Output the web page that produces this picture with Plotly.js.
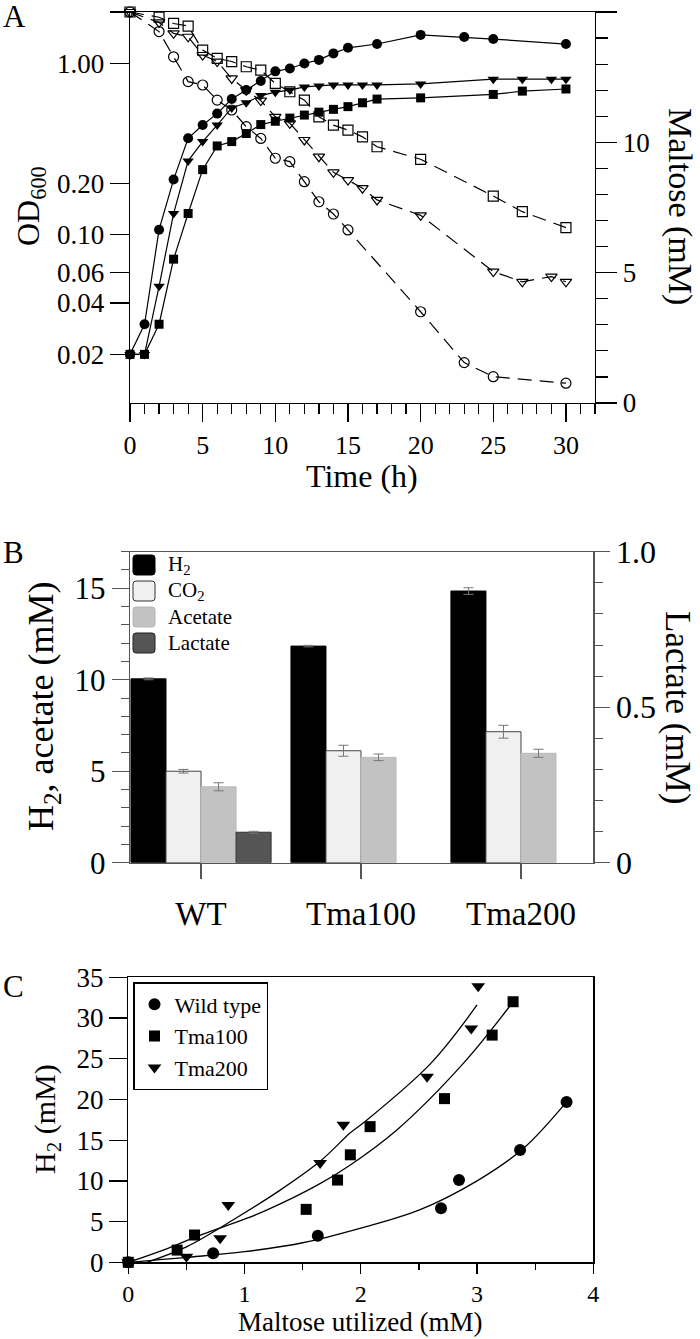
<!DOCTYPE html>
<html>
<head>
<meta charset="utf-8">
<script src="https://cdn.plot.ly/plotly-3.0.1.min.js"></script>
<style>
html,body{margin:0;padding:0;background:#fff;}
#chart{width:700px;height:1339px;}
</style>
</head>
<body>
<div id="chart"></div>
<script>
// ---------------- Panel A data ----------------
const tWT_OD   = [0,1,2,3,4,5,6,7,8,9,10,11,12,13,14,15,17,20,23,25,30];
const odWT     = [0.02,0.03,0.107,0.21,0.366,0.437,0.51,0.62,0.70,0.79,0.90,0.935,1.0,1.05,1.146,1.236,1.30,1.47,1.43,1.39,1.30];
const tT100_OD = [0,1,2,3,4,5,6,7,8,9,10,11,12,13,14,15,16,17,20,25,27,30];
const odT100   = [0.02,0.02,0.03,0.072,0.133,0.24,0.33,0.35,0.39,0.44,0.46,0.48,0.50,0.52,0.54,0.56,0.59,0.62,0.63,0.66,0.69,0.71];
const tT200_OD = [0,1,2,3,4,5,6,7,8,9,10,11,12,13,14,15,16,17,20,25,27,29,30];
const odT200   = [0.02,0.02,0.05,0.133,0.27,0.35,0.437,0.55,0.59,0.65,0.68,0.70,0.73,0.74,0.75,0.75,0.75,0.75,0.76,0.81,0.81,0.81,0.81];

const tWT_M    = [0,2,3,4,5,6,7,8,9,10,11,12,13,14,15,20,23,25,30];
const malWT    = [15.0,14.25,13.28,12.33,12.2,11.62,11.24,10.6,10.15,9.39,9.26,8.49,7.72,7.25,6.64,3.5,1.55,1.01,0.76];
const tT100_M  = [0,2,3,4,5,6,7,8,9,10,11,12,13,14,15,16,17,20,25,27,30];
const malT100  = [15.0,14.8,14.56,14.46,13.54,13.22,13.1,12.9,12.77,12.26,11.94,11.62,10.98,10.66,10.47,10.21,9.83,9.35,7.94,7.34,6.73];
const tT200_M  = [0,2,3,4,5,6,7,8,9,10,11,12,13,14,15,16,17,20,25,27,29,30];
const malT200  = [15.0,14.6,14.18,14.05,13.35,13.1,12.45,12.0,11.6,10.98,10.73,10.09,9.45,8.85,8.55,8.24,7.79,7.2,5.04,4.65,4.85,4.65];

const odTickVals = [0.02,0.04,0.06,0.1,0.2,1,2];
const odTickText = ["0.02","0.04","0.06","0.10","0.20","1.00","2.00"];

// ---------------- Panel B data ----------------
const strains   = ["WT","Tma100","Tma200"];
const h2B       = [10.05,11.84,14.85];
const h2Err     = [0.05,0.04,0.18];
const co2B      = [5.0,6.12,7.16];
const co2Err    = [0.1,0.3,0.35];
const acetateB  = [4.15,5.76,5.98];
const acetateErr= [0.22,0.18,0.22];
const lactateB  = [0.098,null,null];
const lactateErr= [0.003,0,0];

// ---------------- Panel C data ----------------
const cWT_x   = [0,0.73,1.63,2.69,2.845,3.37,3.77];
const cWT_y   = [0,1.1,3.27,6.63,10.1,13.8,19.7];
const cT100_x = [0,0.42,0.57,1.53,1.80,1.91,2.08,2.72,3.13,3.31];
const cT100_y = [0,1.5,3.35,6.5,10.1,13.2,16.66,20.1,27.9,32.0];
const cT200_x = [0,0.50,0.79,0.86,1.65,1.85,2.57,2.95,3.01];
const cT200_y = [0,0.69,2.95,7.04,12.2,16.9,22.8,28.7,33.9];
// fitted curves
const fitWT_x   = [0,0.5,1.0,1.5,2.0,2.5,3.0,3.4,3.77];
const fitWT_y   = [0,0.6,1.3,2.4,4.2,6.4,10.0,14.0,19.7];
const fitT100_x = [0,0.3,0.62,1.0,1.19,1.63,1.91,2.31,2.88,3.30];
const fitT100_y = [0,1.5,3.35,5.3,6.4,9.5,11.95,16.25,24.4,31.8];
const fitT200_x = [0.16,0.5,0.9,1.3,1.65,1.91,2.02,2.6,3.0];
const fitT200_y = [0,1.9,5.2,8.8,12.4,15.9,17.1,24.4,31.6];

// ---------------- helpers ----------------
const W = 700, H = 1339;
const px = x => x / W;
const py = y => 1 - y / H;
const FONT = '"Liberation Serif", "Times New Roman", serif';

const solid = {color:'#000', width:1.2};
const dashed = {color:'#000', width:1.2, dash:'14px,8px'};

const traces = [];
// Panel A filled (OD600)
traces.push({x:tWT_OD, y:odWT, xaxis:'x', yaxis:'y', mode:'lines+markers', line:solid,
  marker:{symbol:'circle', size:10, color:'#000'}, showlegend:false, cliponaxis:false});
traces.push({x:tT200_OD, y:odT200, xaxis:'x', yaxis:'y', mode:'lines+markers', line:solid,
  marker:{symbol:'triangle-down', size:10, color:'#000'}, showlegend:false, cliponaxis:false});
traces.push({x:tT100_OD, y:odT100, xaxis:'x', yaxis:'y', mode:'lines+markers', line:solid,
  marker:{symbol:'square', size:9, color:'#000'}, showlegend:false, cliponaxis:false});
// Panel A open (maltose)
traces.push({x:tWT_M, y:malWT, xaxis:'x', yaxis:'y2', mode:'lines+markers', line:dashed,
  marker:{symbol:'circle-open', size:10, color:'#000', line:{width:1.2}}, showlegend:false, cliponaxis:false});
traces.push({x:tT200_M, y:malT200, xaxis:'x', yaxis:'y2', mode:'lines+markers', line:dashed,
  marker:{symbol:'triangle-down-open', size:10, color:'#000', line:{width:1.2}}, showlegend:false, cliponaxis:false});
traces.push({x:tT100_M, y:malT100, xaxis:'x', yaxis:'y2', mode:'lines+markers', line:dashed,
  marker:{symbol:'square-open', size:10, color:'#000', line:{width:1.2}}, showlegend:false, cliponaxis:false});

// Panel B bars
const errStyle = arr => ({type:'data', array:arr, visible:true, color:'#777', thickness:1, width:5});
const bw = 0.219;
traces.push({type:'bar', x:strains, y:h2B, xaxis:'x2', yaxis:'y3', width:bw, offset:-2*bw,
  marker:{color:'#000', line:{color:'#000', width:1}}, error_y:errStyle(h2Err), showlegend:false});
traces.push({type:'bar', x:strains, y:co2B, xaxis:'x2', yaxis:'y3', width:bw, offset:-bw,
  marker:{color:'#f0f0f0', line:{color:'#444', width:1}}, error_y:errStyle(co2Err), showlegend:false});
traces.push({type:'bar', x:strains, y:acetateB, xaxis:'x2', yaxis:'y3', width:bw, offset:0,
  marker:{color:'#c2c2c2', line:{color:'#bbb', width:1}}, error_y:errStyle(acetateErr), showlegend:false});
traces.push({type:'bar', x:strains, y:lactateB, xaxis:'x2', yaxis:'y4', width:bw, offset:bw,
  marker:{color:'#555', line:{color:'#333', width:1}}, error_y:errStyle(lactateErr), showlegend:false});

// Panel C
traces.push({x:fitWT_x, y:fitWT_y, xaxis:'x3', yaxis:'y5', mode:'lines', line:{color:'#000', width:1.3, shape:'spline'}, showlegend:false, hoverinfo:'skip'});
traces.push({x:fitT100_x, y:fitT100_y, xaxis:'x3', yaxis:'y5', mode:'lines', line:{color:'#000', width:1.3, shape:'spline'}, showlegend:false, hoverinfo:'skip'});
traces.push({x:fitT200_x, y:fitT200_y, xaxis:'x3', yaxis:'y5', mode:'lines', line:{color:'#000', width:1.3, shape:'spline'}, showlegend:false, hoverinfo:'skip'});
traces.push({x:cWT_x, y:cWT_y, xaxis:'x3', yaxis:'y5', mode:'markers', name:'Wild type',
  marker:{symbol:'circle', size:12, color:'#000'}, cliponaxis:false});
traces.push({x:cT100_x, y:cT100_y, xaxis:'x3', yaxis:'y5', mode:'markers', name:'Tma100',
  marker:{symbol:'square', size:11, color:'#000'}, cliponaxis:false});
traces.push({x:cT200_x, y:cT200_y, xaxis:'x3', yaxis:'y5', mode:'markers', name:'Tma200',
  marker:{symbol:'triangle-down', size:12, color:'#000'}, cliponaxis:false});

const axBase = {showgrid:false, zeroline:false, showline:true, linecolor:'#000', linewidth:1.3,
  ticks:'outside', tickcolor:'#000', tickwidth:1.3, tickfont:{family:FONT, size:27, color:'#000'}};
const ax = o => Object.assign({}, axBase, o);

function ann(text, x, y, size, angle, extra) {
  return Object.assign({text:text, xref:'paper', yref:'paper', x:px(x), y:py(y), xanchor:'center', yanchor:'middle',
    showarrow:false, textangle:angle||0, font:{family:FONT, size:size, color:'#000'}}, extra||{});
}

// manual legend for panel B
const legB = [
  {label:'H<sub>2</sub>', fill:'#000', line:'#000', cy:565},
  {label:'CO<sub>2</sub>', fill:'#f0f0f0', line:'#333', cy:591},
  {label:'Acetate', fill:'#c2c2c2', line:'#b5b5b5', cy:617},
  {label:'Lactate', fill:'#555', line:'#222', cy:643}
];
function rrect(x0,y0,x1,y1,r){
  const X=v=>px(v).toFixed(5), Y=v=>py(v).toFixed(5);
  return `M${X(x0+r)},${Y(y0)} L${X(x1-r)},${Y(y0)} Q${X(x1)},${Y(y0)} ${X(x1)},${Y(y0+r)} L${X(x1)},${Y(y1-r)} Q${X(x1)},${Y(y1)} ${X(x1-r)},${Y(y1)} L${X(x0+r)},${Y(y1)} Q${X(x0)},${Y(y1)} ${X(x0)},${Y(y1-r)} L${X(x0)},${Y(y0+r)} Q${X(x0)},${Y(y0)} ${X(x0+r)},${Y(y0)} Z`;
}
const shapes = legB.map(e => ({type:'path', xref:'paper', yref:'paper', path:rrect(133, e.cy-10, 155, e.cy+10, 3),
  fillcolor:e.fill, line:{color:e.line, width:1}}));
const annotations = legB.map(e => ann(e.label, 166, e.cy, 21, 0, {xanchor:'left'}));

annotations.push(ann('A', 14, 16, 31));
annotations.push(ann('B', 13, 553, 31));
annotations.push(ann('C', 13, 986, 31));
annotations.push(ann('OD<sub>600</sub>', 30, 206, 32, -90));
annotations.push(ann('Maltose (mM)', 680, 206, 34, 90));
annotations.push(ann('Time (h)', 362, 476, 32));
annotations.push(ann('H<sub>2</sub>, acetate (mM)', 43, 707, 36, -90));
annotations.push(ann('Lactate (mM)', 678, 707, 35, 90));
annotations.push(ann('H<sub>2</sub> (mM)', 47, 1119, 30, -90));
annotations.push(ann('Maltose utilized (mM)', 360, 1339, 27, 0, {yanchor:'bottom'}));

const layout = {
  width:W, height:H, margin:{l:0,r:0,t:0,b:0}, paper_bgcolor:'#fff', plot_bgcolor:'rgba(0,0,0,0)',
  font:{family:FONT, color:'#000'},
  barmode:'overlay',
  // Panel A
  xaxis: ax({domain:[px(130),px(595)], anchor:'y', range:[0,32], dtick:5, tick0:0, ticklen:18, mirror:true,
    tickfont:{family:FONT, size:26, color:'#000'},
    minor:{dtick:1, tick0:0, ticks:'outside', ticklen:10, tickcolor:'#000', tickwidth:1.2}}),
  yaxis: ax({domain:[py(403),py(12)], anchor:'x', type:'log', range:[Math.log10(0.0104), Math.log10(2)],
    tickmode:'array', tickvals:odTickVals, ticktext:odTickText, ticklen:19}),
  yaxis2: ax({overlaying:'y', side:'right', anchor:'x', range:[0,15], dtick:5, tick0:0, ticklen:21,
    minor:{dtick:1, tick0:0, ticks:'outside', ticklen:12, tickcolor:'#000', tickwidth:1.2}}),
  // Panel B
  xaxis2: ax({domain:[px(130),px(593.3)], anchor:'y3', type:'category', range:[-0.444,2.452], ticklen:15,
    ticklabelstandoff:6,
    linecolor:'#555', tickcolor:'#555', linewidth:1.2, mirror:true, tickfont:{family:FONT, size:33, color:'#000'}}),
  yaxis3: ax({domain:[py(862.7),py(551.7)], anchor:'x2', range:[0,17], dtick:5, tick0:0, ticklen:17,
    linecolor:'#555', tickcolor:'#555', linewidth:1.2, tickfont:{family:FONT, size:31, color:'#000'},
    minor:{dtick:1, tick0:0, ticks:'outside', ticklen:8, tickcolor:'#555', tickwidth:1}}),
  yaxis4: ax({overlaying:'y3', side:'right', anchor:'x2', range:[0,1], tickmode:'array', tickvals:[0,0.5,1],
    ticktext:['0','0.5','1.0'], ticklen:15, linecolor:'#555', tickcolor:'#555', linewidth:1.2,
    tickfont:{family:FONT, size:32, color:'#000'},
    minor:{dtick:0.1, tick0:0, ticks:'outside', ticklen:8, tickcolor:'#555', tickwidth:1}}),
  // Panel C
  xaxis3: ax({domain:[px(128.3),px(593.3)], anchor:'y5', range:[0,4], dtick:1, tick0:0, ticklen:10, mirror:true,
    tickfont:{family:FONT, size:24, color:'#000'},
    minor:{dtick:0.5, tick0:0, ticks:'outside', ticklen:6, tickcolor:'#000', tickwidth:1.2}}),
  yaxis5: ax({domain:[py(1262.3),py(977.3)], anchor:'x3', range:[0,35], dtick:5, tick0:0, ticklen:18, mirror:true}),
  showlegend:true,
  legend:{x:px(133), y:py(982), xanchor:'left', yanchor:'top', bgcolor:'#fff', bordercolor:'#000', borderwidth:1.5,
    font:{family:FONT, size:22, color:'#000'}, tracegroupgap:0, itemwidth:30},
  shapes:shapes,
  annotations:annotations
};

Plotly.newPlot('chart', traces, layout, {displayModeBar:false, staticPlot:true});
</script>
</body>
</html>
